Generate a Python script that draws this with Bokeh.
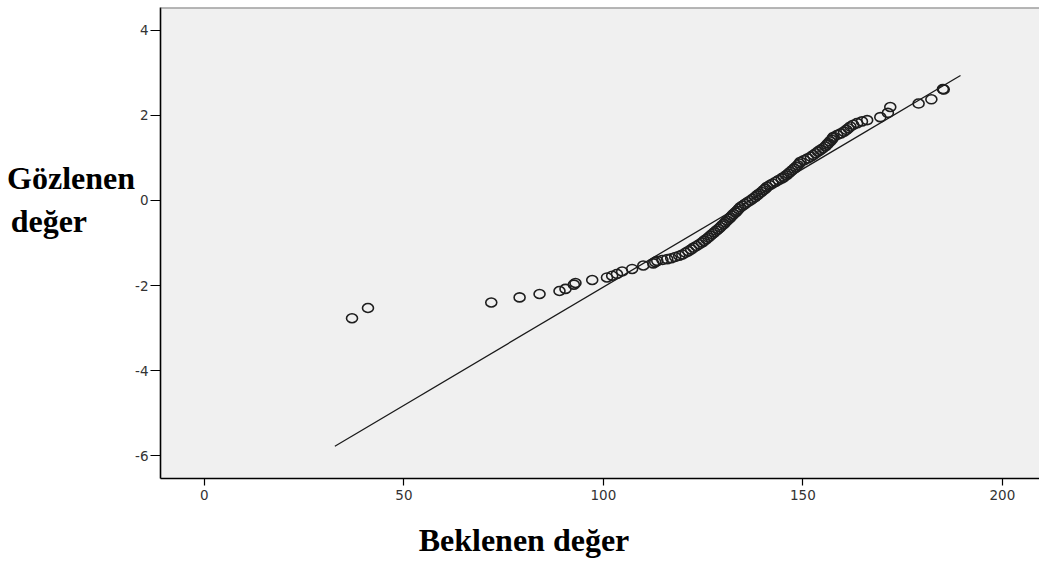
from bokeh.plotting import figure
from bokeh.models import FixedTicker, Span, Range1d
from bokeh.embed import file_html
from bokeh.resources import INLINE

obs_x = [37.0, 41.0, 71.9, 79.0, 84.0, 89.0, 90.5, 92.6, 93.0, 97.2, 100.9, 102.2, 103.4,
         104.7, 107.2, 110.0,
         112.5, 113.0, 113.5, 114.8, 116.0, 117.0, 118.0, 119.0, 119.8, 120.6, 121.3, 122.0,
         122.6, 123.3, 124.0, 124.7, 125.2, 125.8, 126.3, 126.8, 127.3, 127.8, 128.3, 128.8,
         129.3, 129.7, 130.2, 130.6, 131.0, 131.5, 131.8, 132.2, 132.6, 133.1, 133.5, 133.9,
         134.3, 134.9, 135.5, 136.1, 136.8, 137.4, 138.0, 138.5, 139.0, 139.6, 140.1, 140.6,
         141.0, 141.7, 142.4, 143.2, 143.9, 144.7, 145.2, 145.8, 146.3, 146.8, 147.3, 147.8,
         148.3, 148.7, 149.1, 149.4, 150.3, 151.2, 152.0, 152.6, 153.2, 153.8, 154.4, 155.0,
         155.6, 156.0, 156.4, 156.8, 157.2, 157.5, 157.7, 158.6, 159.5, 160.3, 160.9, 161.4,
         161.9, 162.6, 163.6, 164.8, 166.1,
         169.4, 171.3, 171.9, 179.0, 182.2, 185.1, 185.3]
obs_y = [-2.77, -2.53, -2.40, -2.28, -2.20, -2.13, -2.08, -1.98, -1.94, -1.87, -1.81, -1.77, -1.73,
         -1.67, -1.61, -1.53,
         -1.48, -1.45, -1.42, -1.40, -1.38, -1.36, -1.33, -1.30, -1.27, -1.23, -1.19, -1.15,
         -1.11, -1.07, -1.03, -0.99, -0.95, -0.91, -0.87, -0.83, -0.79, -0.75, -0.71, -0.67,
         -0.63, -0.59, -0.55, -0.51, -0.47, -0.43, -0.40, -0.36, -0.32, -0.28, -0.24, -0.20,
         -0.16, -0.12, -0.08, -0.04, 0.00, 0.04, 0.08, 0.12, 0.16, 0.20, 0.24, 0.28,
         0.32, 0.36, 0.40, 0.44, 0.48, 0.52, 0.55, 0.59, 0.63, 0.67, 0.71, 0.75,
         0.79, 0.83, 0.87, 0.91, 0.95, 0.99, 1.03, 1.07, 1.11, 1.15, 1.19, 1.23,
         1.27, 1.31, 1.35, 1.39, 1.43, 1.47, 1.50, 1.54, 1.58, 1.62, 1.66, 1.70,
         1.74, 1.78, 1.82, 1.86, 1.89,
         1.96, 2.06, 2.20, 2.28, 2.38, 2.62, 2.61]

# Reference (expected normal) line endpoints
line_x = [32.7, 189.5]
line_y = [-5.78, 2.94]

x_ticks = [0, 50, 100, 150, 200]
y_ticks = [-6, -4, -2, 0, 2, 4]

x_label = "Beklenen değer"
y_label_lines = ["Gözlenen", "değer"]

NB = "\u00a0"
W, H = 1039, 564
Y_TOP = 4.54
p = figure(width=W, height=H, output_backend="svg", toolbar_location=None,
           x_range=Range1d(-11.0, 209.3), y_range=Range1d(-6.54, Y_TOP),
           min_border_left=160, min_border_right=0, min_border_top=7, min_border_bottom=86)

p.background_fill_color = "#f0f0f0"
p.border_fill_color = "white"
p.outline_line_color = None
p.xgrid.visible = False
p.ygrid.visible = False

# top border of frame
p.add_layout(Span(location=Y_TOP, dimension="width", line_color="#777777", line_width=2))

p.line(line_x, line_y, line_color="#1a1a1a", line_width=1.3)
p.ellipse(obs_x, obs_y, width=11, height=9, width_units="screen", height_units="screen",
          fill_color=None, line_color="#1e1e1e", line_width=1.6)

for ax in (p.xaxis[0], p.yaxis[0]):
    ax.axis_line_color = "black"
    ax.axis_line_width = 1.6
    ax.major_tick_line_color = "black"
    ax.major_tick_line_width = 1.2
    ax.major_tick_in = 0
    ax.minor_tick_line_color = None
    ax.major_label_text_font = "DejaVu Sans"
    ax.major_label_text_font_size = "13.5px"
    ax.major_label_text_color = "#333333"

p.xaxis[0].ticker = FixedTicker(ticks=x_ticks)
p.yaxis[0].ticker = FixedTicker(ticks=y_ticks)
p.yaxis[0].major_label_overrides = {t: str(t) for t in y_ticks}
p.xaxis[0].major_label_overrides = {t: str(t) for t in x_ticks}
p.xaxis[0].major_tick_out = 7
p.yaxis[0].major_tick_out = 10
p.xaxis[0].major_label_standoff = 4
p.yaxis[0].major_label_standoff = 2

# x label: trailing no-break spaces shift its centre left, as in the original
p.xaxis[0].axis_label = x_label + NB * 19
p.xaxis[0].axis_label_text_font = "Liberation Serif"
p.xaxis[0].axis_label_text_font_style = "bold"
p.xaxis[0].axis_label_text_font_size = "32px"
p.xaxis[0].axis_label_text_color = "black"
p.xaxis[0].axis_label_standoff = 19

# y label: two left-aligned lines, placed above the frame centre
p.yaxis[0].axis_label = "\n".join([y_label_lines[0], y_label_lines[1] + NB * 6, NB, NB])
p.yaxis[0].axis_label_orientation = "horizontal"
p.yaxis[0].axis_label_text_font = "Liberation Serif"
p.yaxis[0].axis_label_text_font_style = "bold"
p.yaxis[0].axis_label_text_font_size = "32px"
p.yaxis[0].axis_label_text_color = "black"
p.yaxis[0].axis_label_standoff = -3

open("out.html", "w").write(file_html(p, INLINE))
